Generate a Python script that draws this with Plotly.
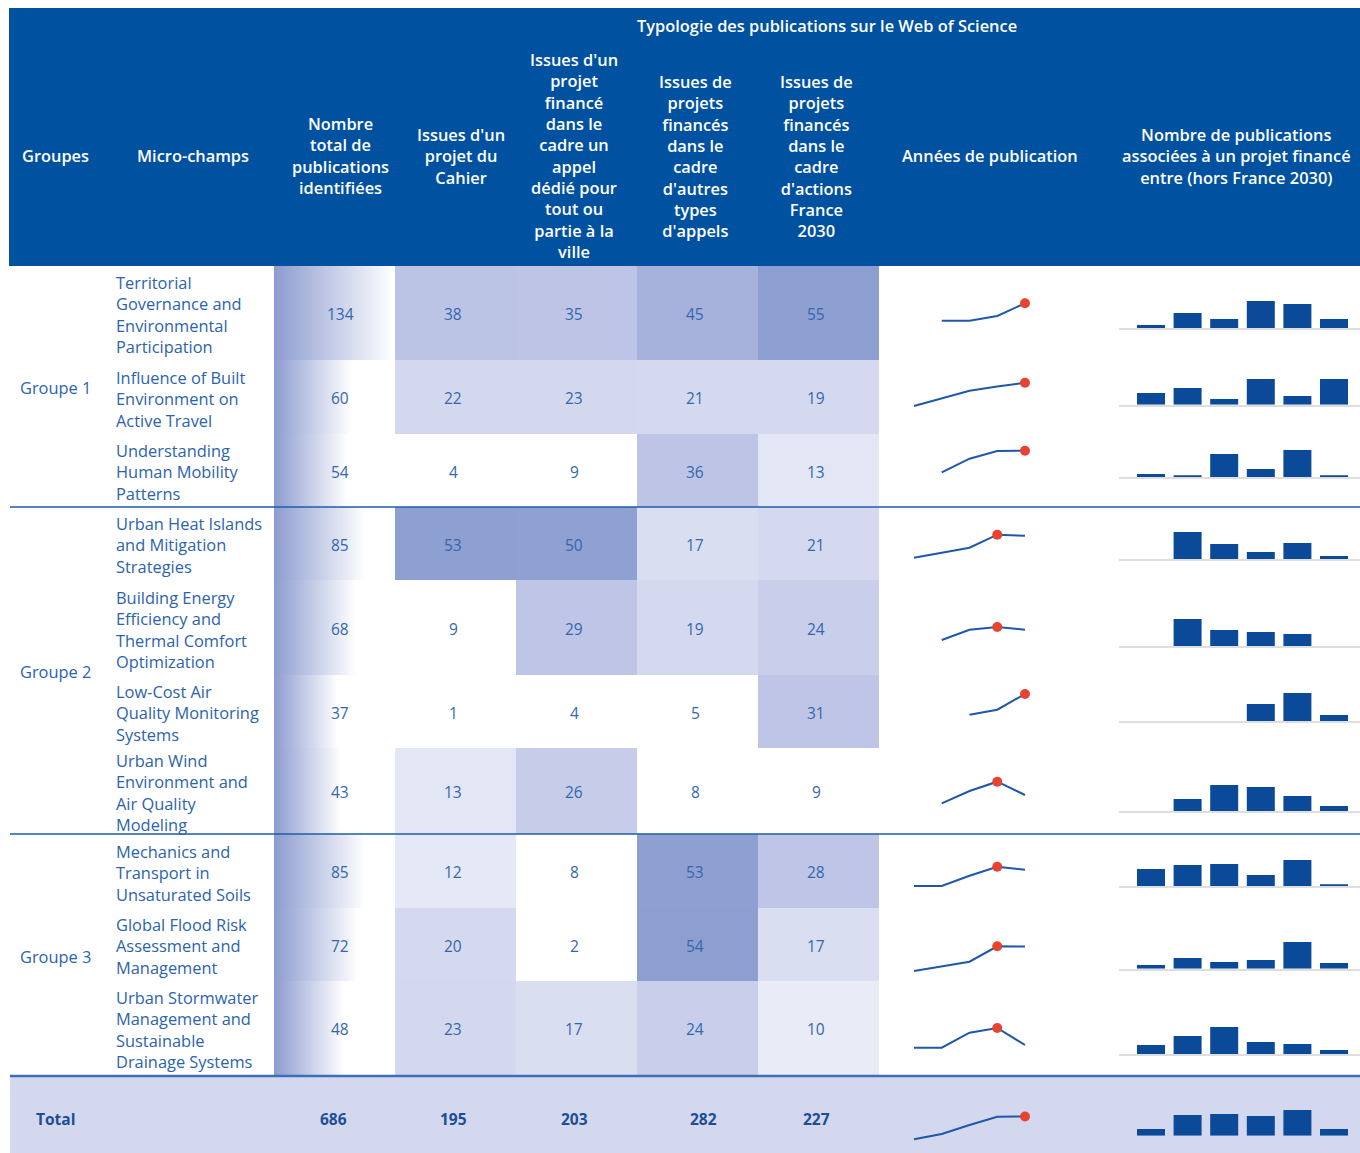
import plotly.graph_objects as go

W, H = 1360, 1153

# ---------------- DATA ----------------
groups = ["Groupe 1", "Groupe 2", "Groupe 3"]
group_sizes = [3, 4, 3]
micro_champs = [
    "Territorial<br>Governance and<br>Environmental<br>Participation",
    "Influence of Built<br>Environment on<br>Active Travel",
    "Understanding<br>Human Mobility<br>Patterns",
    "Urban Heat Islands<br>and Mitigation<br>Strategies",
    "Building Energy<br>Efficiency and<br>Thermal Comfort<br>Optimization",
    "Low-Cost Air<br>Quality Monitoring<br>Systems",
    "Urban Wind<br>Environment and<br>Air Quality<br>Modeling",
    "Mechanics and<br>Transport in<br>Unsaturated Soils",
    "Global Flood Risk<br>Assessment and<br>Management",
    "Urban Stormwater<br>Management and<br>Sustainable<br>Drainage Systems",
]
total_pubs = [134, 60, 54, 85, 68, 37, 43, 85, 72, 48]
cahier = [38, 22, 4, 53, 9, 1, 13, 12, 20, 23]
appel_ville = [35, 23, 9, 50, 29, 4, 26, 8, 2, 17]
autres_appels = [45, 21, 36, 17, 19, 5, 8, 53, 54, 24]
france_2030 = [55, 19, 13, 21, 24, 31, 9, 28, 17, 10]
totals = [686, 195, 203, 282, 227]

# publication-year sparklines (relative level, 5 periods)
annees = [
    [None, 39.3, 39.3, 44.0, 56.7],
    [28.0, 35.5, 43.3, 47.5, 51.3],
    [None, 34.7, 48.3, 56.0, 56.3],
    [22.3, 27.1, 32.3, 45.3, 44.3],
    [None, 35.0, 45.3, 48.0, 45.3],
    [None, None, 33.3, 38.3, 54.0],
    [None, 30.7, 43.0, 52.3, 39.0],
    [22.0, 22.0, 32.3, 41.3, 38.3],
    [10.0, 14.3, 19.3, 34.7, 34.5],
    [27.3, 27.3, 42.3, 47.0, 30.0],
]
annees_total = [13.7, 19.0, 28.0, 36.3, 36.5]

# funded-project publications (relative level, 6 periods)
financ = [
    [3, 15, 9, 27, 24, 9],
    [11.7, 16.7, 5.7, 25.7, 8.7, 25.7],
    [3.3, 1.3, 23.3, 8.3, 27.3, 1.3],
    [0, 27.3, 15.3, 7.3, 16.3, 3.3],
    [0, 27.3, 16.3, 14.3, 12.3, 0],
    [0, 0, 0, 17.3, 28.3, 6.3],
    [0, 12, 26, 24, 15, 5],
    [17.3, 21.3, 22.3, 11.3, 26.3, 1.3],
    [3.7, 10.7, 6.7, 8.7, 26.7, 5.7],
    [9, 18, 27, 12, 10, 4],
]
financ_total = [6.7, 20.7, 21.7, 19.7, 25.7, 6.7]

header_labels = [
    "Groupes",
    "Micro-champs",
    "Nombre<br>total de<br>publications<br>identifiées",
    "Issues d'un<br>projet du<br>Cahier",
    "Issues d'un<br>projet<br>financé<br>dans le<br>cadre un<br>appel<br>dédié pour<br>tout ou<br>partie à la<br>ville",
    "Issues de<br>projets<br>financés<br>dans le<br>cadre<br>d'autres<br>types<br>d'appels",
    "Issues de<br>projets<br>financés<br>dans le<br>cadre<br>d'actions<br>France<br>2030",
    "Années de publication",
    "Nombre de publications<br>associées à un projet financé<br>entre (hors France 2030)",
]
super_header = "Typologie des publications sur le Web of Science"
total_label = "Total"

# ---------------- LAYOUT CONSTANTS (pixels) ----------------
ROW_EDGES = [266, 360, 434, 507, 580, 675, 748, 834, 908, 981, 1075]
TOTAL_TOP, TOTAL_BOT = 1077, 1153
HEAD_X = [55, 193, 340, 461, 574, 695, 816, 990, 1236]
HEAT_X_EDGES = [395, 516, 637, 758, 879]
TOTAL_TEXT_X = [333, 453, 574, 703, 816]
BAR_BASE = [328, 404.7, 477.3, 559.3, 646.3, 721.3, 811, 886.3, 968.7, 1054, 1135.7]
SPARK_BOTTOM = ROW_EDGES[1:] + [TOTAL_BOT]

FONT = "Open Sans"
TXT_BLUE = "#2c63ae"
NUM_BLUE = "#3467ae"
DARK_BLUE = "#0b4a98"
HEAD_BLUE = "#0051a0"


def px(x):
    return x / W


def py(y):
    return 1 - y / H


fig = go.Figure()
layout = dict(
    width=W, height=H, margin=dict(l=0, r=0, t=0, b=0),
    paper_bgcolor="white", plot_bgcolor="rgba(0,0,0,0)",
    showlegend=False, hovermode=False,
)

hidden = dict(showgrid=False, zeroline=False, showticklabels=False,
              showline=False, ticks="", fixedrange=True)

layout["xaxis"] = dict(hidden, domain=[0, 1], range=[0, W])
layout["yaxis"] = dict(hidden, domain=[0, 1], range=[H, 0])

row_centers = [(ROW_EDGES[i] + ROW_EDGES[i + 1]) / 2 for i in range(10)]

# ---------- heat map cells (4 typology columns) ----------
z = [[cahier[i], appel_ville[i], autres_appels[i], france_2030[i]] for i in range(10)]
zmax = 55.0
cs_pts = [(0, "#ffffff"), (9.5, "#ffffff"), (10, "#e9ebf7"), (13, "#e3e6f5"),
          (17, "#dadef1"), (19, "#d5d9ef"), (23, "#d3d8ee"), (24, "#c9ceea"),
          (26, "#c7cce9"), (28, "#bfc5e6"), (38, "#bcc4e6"), (45, "#a6b1dc"),
          (50, "#8fa0d2"), (55, "#8d9fd1")]
colorscale = [[v / zmax, c] for v, c in cs_pts]
fig.add_trace(go.Heatmap(
    z=z, x=HEAT_X_EDGES, y=ROW_EDGES, xaxis="x", yaxis="y",
    colorscale=colorscale, zmin=0, zmax=zmax, showscale=False,
    hoverinfo="skip",
))

# ---------- gradient data bars for total column ----------
TMIN, TMAX = -72.0, 136.0
layout["xaxis2"] = dict(hidden, domain=[px(274), px(395)], range=[TMIN, TMAX], anchor="y")
for i, v in enumerate(total_pubs):
    top, bot = ROW_EDGES[i], ROW_EDGES[i + 1]
    fig.add_trace(go.Scatter(
        x=[TMIN, v, v, TMIN, TMIN], y=[top, top, bot, bot, top],
        xaxis="x2", yaxis="y", mode="lines", fill="toself",
        line=dict(width=0, color="rgba(0,0,0,0)"),
        fillgradient=dict(type="horizontal",
                          colorscale=[[0, "#8d9cd0"], [1, "#ffffff"]]),
        hoverinfo="skip",
    ))

# ---------- sparklines & bars ----------
SP_X0, SP_STEP = 914, 27.75
SP_L, SP_R = 900, 1040
SP_H = 80
BAR_L, BAR_R = 1119, 1360
BAR_C0, BAR_STEP = 1151, 36.6
BAR_H = 30

all_annees = annees + [annees_total]
all_financ = financ + [financ_total]
for r in range(11):
    k = 3 + r
    bottom = SPARK_BOTTOM[r]
    layout[f"xaxis{k}"] = dict(hidden, domain=[px(SP_L), px(SP_R)], anchor=f"y{k}",
                               range=[(SP_L - SP_X0) / SP_STEP, (SP_R - SP_X0) / SP_STEP])
    layout[f"yaxis{k}"] = dict(hidden, domain=[py(bottom), py(bottom - SP_H)],
                               anchor=f"x{k}", range=[0, SP_H])
    vals = all_annees[r]
    xs = list(range(len(vals)))
    fig.add_trace(go.Scatter(x=xs, y=vals, mode="lines", xaxis=f"x{k}", yaxis=f"y{k}",
                             line=dict(color="#1f58a8", width=2), connectgaps=False,
                             hoverinfo="skip"))
    vmax = max(v for v in vals if v is not None)
    imax = vals.index(vmax)
    fig.add_trace(go.Scatter(x=[imax], y=[vmax], mode="markers", xaxis=f"x{k}", yaxis=f"y{k}",
                             marker=dict(color="#e8432f", size=10, line=dict(width=0)),
                             cliponaxis=False, hoverinfo="skip"))

    kb = 14 + r
    base = BAR_BASE[r]
    layout[f"xaxis{kb}"] = dict(hidden, domain=[px(BAR_L), px(BAR_R)], anchor=f"y{kb}",
                                range=[(BAR_L - BAR_C0) / BAR_STEP, (BAR_R - BAR_C0) / BAR_STEP],
                                showline=(r < 10), linecolor="#dedede", linewidth=1.5)
    layout[f"yaxis{kb}"] = dict(hidden, domain=[py(base), py(base - BAR_H)],
                                anchor=f"x{kb}", range=[0, BAR_H])
    bv = all_financ[r]
    fig.add_trace(go.Bar(x=list(range(len(bv))), y=bv, xaxis=f"x{kb}", yaxis=f"y{kb}",
                         marker=dict(color=DARK_BLUE, line=dict(width=0)), width=0.765,
                         hoverinfo="skip"))

# ---------- shapes ----------
shapes = [
    dict(type="rect", xref="paper", yref="paper", x0=px(9), x1=px(1360),
         y0=py(266), y1=py(8), fillcolor=HEAD_BLUE, line=dict(width=0), layer="below"),
    dict(type="rect", xref="paper", yref="paper", x0=px(10), x1=px(1360),
         y0=py(TOTAL_BOT), y1=py(TOTAL_TOP), fillcolor="#d3d8ee", line=dict(width=0),
         layer="below"),
]
for yy in [507, 834]:
    shapes.append(dict(type="line", xref="paper", yref="paper", x0=px(10), x1=px(1360),
                       y0=py(yy), y1=py(yy), line=dict(color="#1e5ca8", width=1.5)))
shapes.append(dict(type="line", xref="paper", yref="paper", x0=px(10), x1=px(1360),
                   y0=py(1076), y1=py(1076), line=dict(color="#3e6fb6", width=2.5)))
layout["shapes"] = shapes

# ---------- annotations ----------
ann = []
hfont = dict(family=FONT, size=16.4, color="white", weight=600)
for lab, x in zip(header_labels, HEAD_X):
    ann.append(dict(text=lab, x=px(x), y=py(156), xref="paper", yref="paper",
                    showarrow=False, xanchor="center", yanchor="middle", align="center",
                    font=hfont))
ann.append(dict(text=super_header, x=px(827), y=py(25), xref="paper", yref="paper",
                showarrow=False, xanchor="center", yanchor="middle", font=hfont))

bfont = dict(family=FONT, size=16.4, color=TXT_BLUE)
for i, name in enumerate(micro_champs):
    ann.append(dict(text=name, x=px(114), y=py(row_centers[i] + 1.5), xref="paper", yref="paper",
                    showarrow=False, xanchor="left", yanchor="middle", align="left",
                    font=bfont))
start = 0
for g, n in zip(groups, group_sizes):
    yc = (ROW_EDGES[start] + ROW_EDGES[start + n]) / 2
    ann.append(dict(text=g, x=px(55), y=py(yc + 1.5), xref="paper", yref="paper",
                    showarrow=False, xanchor="center", yanchor="middle", font=bfont))
    start += n

# cell numbers
nfont = dict(family=FONT, size=15.5, color=NUM_BLUE)
num_cols = [total_pubs, cahier, appel_ville, autres_appels, france_2030]
num_x = [340, 453, 574, 695, 816]
for col, x in zip(num_cols, num_x):
    for i, v in enumerate(col):
        ann.append(dict(text=str(v), x=px(x), y=py(row_centers[i] + 1), xref="paper",
                        yref="paper", showarrow=False, xanchor="center", yanchor="middle",
                        font=nfont))

tfont = dict(family=FONT, size=15.5, color="#1d4e96", weight=700)
ann.append(dict(text=total_label, x=px(55), y=py(1119), xref="paper", yref="paper",
                showarrow=False, xanchor="center", yanchor="middle", font=tfont))
for v, x in zip(totals, TOTAL_TEXT_X):
    ann.append(dict(text=str(v), x=px(x), y=py(1119), xref="paper", yref="paper",
                    showarrow=False, xanchor="center", yanchor="middle", font=tfont))
layout["annotations"] = ann

fig.update_layout(**layout)
fig.write_html("out.html", config={"displayModeBar": False},
               post_script="document.body.style.margin='0';document.body.style.overflow='hidden';")
